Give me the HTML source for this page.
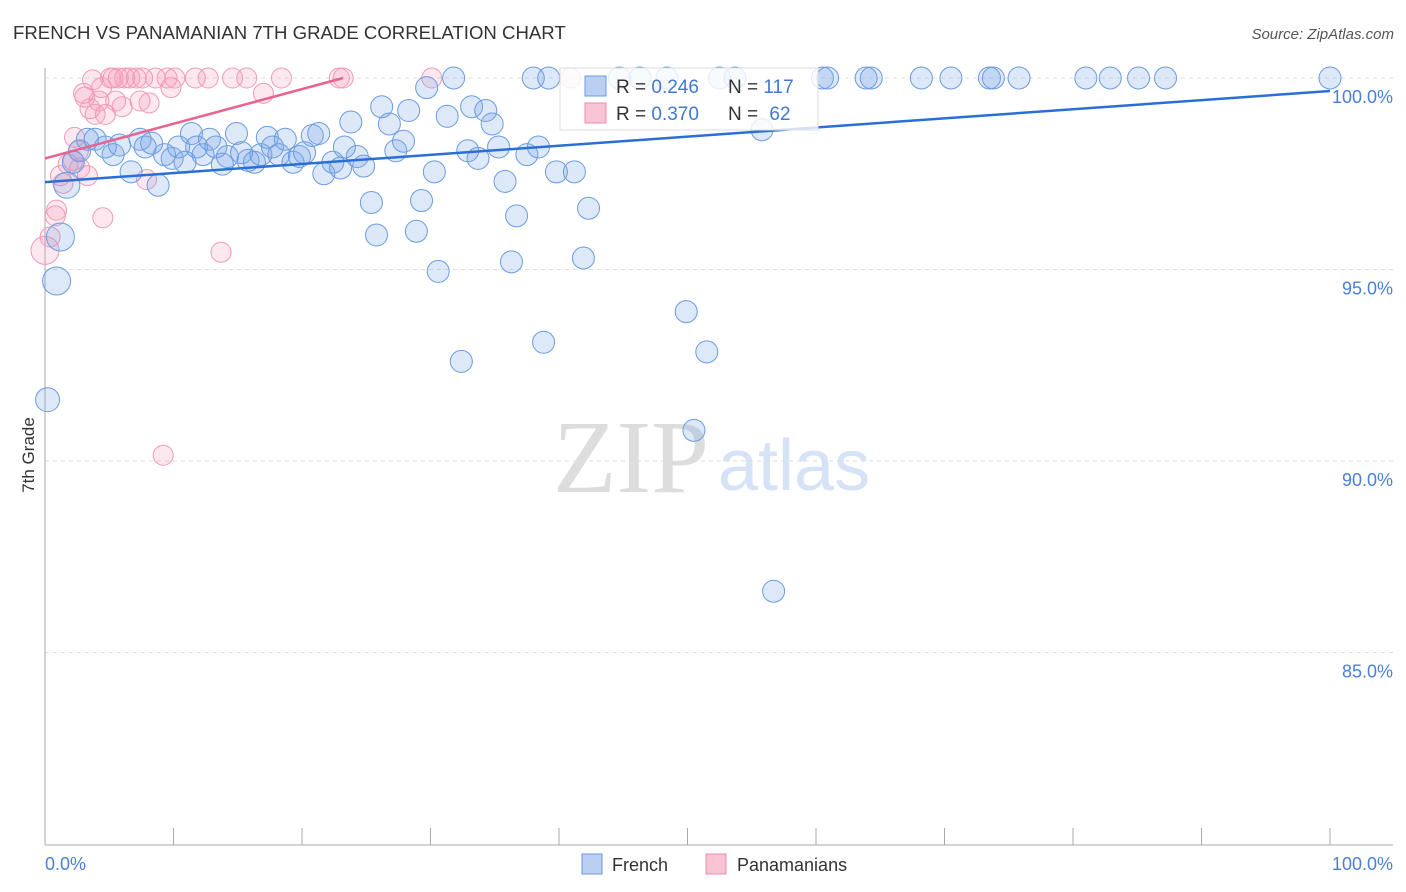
<!DOCTYPE html>
<html><head><meta charset="utf-8"><style>
body{margin:0;background:#fff;font-family:"Liberation Sans",sans-serif}
svg{display:block}
</style></head><body>
<svg id="c" width="1406" height="892" xmlns="http://www.w3.org/2000/svg">
<text x="13" y="39" font-size="18.6" fill="#333">FRENCH VS PANAMANIAN 7TH GRADE CORRELATION CHART</text>
<text x="1394" y="39" font-size="15" fill="#555" font-style="italic" text-anchor="end">Source: ZipAtlas.com</text>
<text x="34" y="455" font-size="17" fill="#333" text-anchor="middle" transform="rotate(-90 34 455)">7th Grade</text>
<text x="553" y="492" font-size="104" fill="#ddd" font-family="Liberation Serif,serif">ZIP</text>
<text x="718" y="490" font-size="72" fill="#d6e2f5">atlas</text>
<g id="grid"></g><g id="pts"></g><g id="lines"></g>
<g>
<rect x="560" y="68" width="258" height="62" fill="#fff" fill-opacity="0.8" stroke="#ddd"/>
<rect x="585" y="76" width="21" height="20" fill="#b9d0f3" stroke="#6a9be0"/>
<rect x="585" y="103" width="21" height="20" fill="#f9c4d4" stroke="#ee8aa8"/>
<text x="616" y="93" font-size="19" fill="#333">R = <tspan fill="#3f78d6">0.246</tspan></text>
<text x="728" y="93" font-size="19" fill="#333">N = <tspan fill="#3f78d6">117</tspan></text>
<text x="616" y="120" font-size="19" fill="#333">R = <tspan fill="#3f78d6">0.370</tspan></text>
<text x="728" y="120" font-size="19" fill="#333">N = <tspan dx="6" fill="#3f78d6">62</tspan></text>
</g>
<g>
<rect x="582" y="854" width="20" height="20" fill="#b9d0f3" stroke="#6a9be0"/>
<text x="612" y="871" font-size="18" fill="#333">French</text>
<rect x="706" y="854" width="20" height="20" fill="#f9c4d4" stroke="#ee8aa8"/>
<text x="737" y="871" font-size="18" fill="#333">Panamanians</text>
</g>
<text x="45" y="870" font-size="18" fill="#4a7fd6">0.0%</text>
<text x="1393" y="870" font-size="18" fill="#4a7fd6" text-anchor="end">100.0%</text>
</svg>
<script>
const yTicks=[100,95,90,85];
const yTickLabels=["100.0%","95.0%","90.0%","85.0%"];
const frenchX=[0.2,0.9,1.2,1.7,2.2,2.7,3.3,3.9,4.7,5.3,5.8,6.7,7.4,7.8,8.3,8.8,9.3,9.9,10.4,10.9,11.4,11.8,12.3,12.8,13.3,13.8,14.2,14.9,15.3,15.8,16.3,16.8,17.3,17.7,18.2,18.7,19.3,19.8,20.2,20.8,21.3,21.7,22.4,23.0,23.3,23.8,24.3,24.8,25.4,25.8,26.2,26.8,27.3,27.9,28.3,28.9,29.3,29.7,30.3,30.6,31.3,31.8,32.4,32.9,33.2,33.7,34.3,34.8,35.3,35.8,36.3,36.7,37.5,38,38.4,38.8,39.2,39.8,41.2,41.9,42.3,44.7,46.3,48.4,49.9,50.5,51.5,52.5,53.7,55.8,56.7,60.5,60.9,63.9,64.3,68.2,70.5,73.5,73.8,75.8,81,82.9,85.1,87.2,100];
const frenchY=[91.6,94.7,95.85,97.2,97.8,98.1,98.4,98.4,98.2,98.0,98.25,97.55,98.4,98.2,98.3,97.2,98.0,97.9,98.2,97.8,98.55,98.2,98.0,98.4,98.2,97.75,97.95,98.55,98.05,97.85,97.8,98.0,98.45,98.2,98.0,98.4,97.8,97.95,98.05,98.5,98.55,97.5,97.8,97.65,98.2,98.85,97.95,97.7,96.75,95.9,99.25,98.8,98.1,98.35,99.15,96.0,96.8,99.75,97.55,94.95,99.0,100,92.6,98.1,99.25,97.9,99.15,98.8,98.2,97.3,95.2,96.4,98.0,100,98.2,93.1,100,97.55,97.55,95.3,96.6,100,100,100,93.9,90.8,92.85,100,100,98.65,86.6,100,100,100,100,100,100,100,100,100,100,100,100,100,100];
const panX=[0,0.4,0.8,0.9,1.2,1.4,1.8,2.2,2.3,2.6,2.7,3.0,3.1,3.3,3.5,3.7,3.9,4.2,4.4,4.5,4.7,5.1,5.3,5.5,5.7,6.0,6.2,6.6,7.1,7.4,7.6,7.9,8.1,8.6,9.2,9.5,9.8,10.1,11.7,12.7,13.7,14.6,15.7,17,18.4,22.9,23.2,30.1,40.9];
const panY=[95.5,95.85,96.4,96.55,97.45,97.25,97.75,97.85,98.45,98.1,97.65,99.6,99.5,97.45,99.2,99.95,99.05,99.4,99.75,96.35,99.05,100,100,99.4,100,99.25,100,100,100,99.4,100,97.35,99.35,100,90.15,100,99.75,100,100,100,95.45,100,100,99.6,100,100,100,100,100];
const frenchLine=[[0,97.28],[100,99.66]];
const panLine=[[0,97.9],[23.2,100]];
const NS="http://www.w3.org/2000/svg";
const X=v=>45+v*12.85, Y=v=>78+(100-v)*38.3;
function mk(t,a,p){const e=document.createElementNS(NS,t);for(const k in a)e.setAttribute(k,a[k]);p.appendChild(e);return e;}
const grid=document.getElementById('grid');
yTicks.forEach((t,i)=>{
 const l=mk('line',{x1:45,x2:1393,y1:Y(t),y2:Y(t),stroke:'#ddd','stroke-dasharray':'4,4'},grid);
 
 
 const tx=mk('text',{x:1393,y:Y(t)+25,'font-size':18,fill:'#4a7fd6','text-anchor':'end'},grid);
 tx.textContent=yTickLabels[i];
 
 
});
const ax=mk('line',{x1:45,x2:45,y1:68,y2:845,stroke:'#aaa'},grid);


const bx=mk('line',{x1:45,x2:1393,y1:845,y2:845,stroke:'#aaa'},grid);


for(let i=0;i<=10;i++){const tk=mk('line',{x1:X(i*10),x2:X(i*10),y1:828,y2:845,stroke:'#aaa'},grid);
 
 }
const pts=document.getElementById('pts');
panX.forEach((x,i)=>{const c=mk('circle',{cx:X(x),cy:Y(panY[i]),r:i==0?14:10,fill:'rgba(244,150,180,0.22)',stroke:'#f09ab5','stroke-width':1},pts);
 
 });
frenchX.forEach((x,i)=>{const c=mk('circle',{cx:X(x),cy:Y(frenchY[i]),r:i<4?(i==0?12:(i==3?13:14)):11,fill:'rgba(120,165,230,0.25)',stroke:'#6b9ce0','stroke-width':1},pts);
 
 });
const lg=document.getElementById('lines');
const fl=mk('line',{x1:X(frenchLine[0][0]),y1:Y(frenchLine[0][1]),x2:X(frenchLine[1][0]),y2:Y(frenchLine[1][1]),stroke:'#2a6fd6','stroke-width':2.5},lg);


const pl=mk('line',{x1:X(panLine[0][0]),y1:Y(panLine[0][1]),x2:X(panLine[1][0]),y2:Y(panLine[1][1]),stroke:'#e8648e','stroke-width':2.5},lg);


</script>
</body></html>
